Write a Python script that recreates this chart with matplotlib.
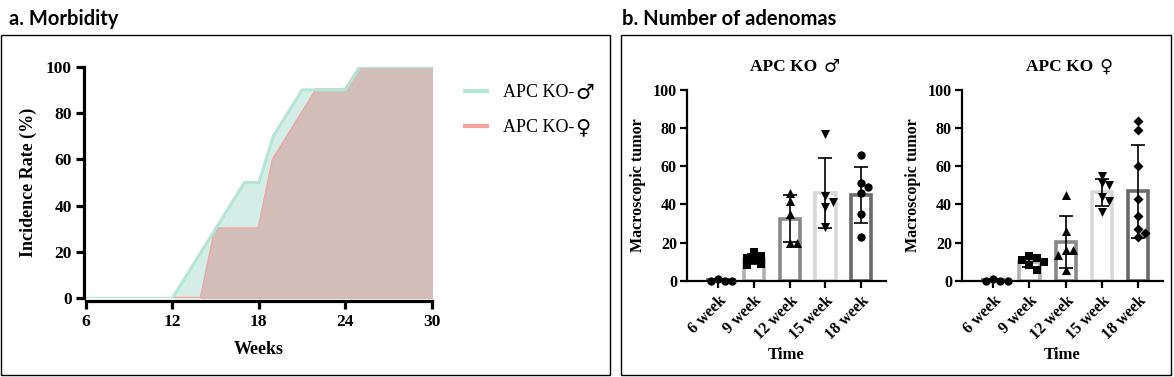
import numpy as np
import matplotlib
matplotlib.use("Agg")
import matplotlib.pyplot as plt
from matplotlib.patches import Rectangle

# ---------------- data ----------------
# a. Morbidity (incidence rate, %)
male_weeks = [6, 12, 15, 17, 18, 19, 21, 24, 25, 30]
male_rate = [0, 0, 30, 50, 50, 70, 90, 90, 100, 100]
female_weeks = [12, 14, 15, 18, 19, 22, 24, 25, 30]
female_rate = [0, 0, 30, 30, 60, 90, 90, 100, 100]

# b. Number of adenomas (macroscopic tumors per mouse)
categories = ["6 week", "9 week", "12 week", "15 week", "18 week"]
male_6w = [1, 0, 0, 0]
male_9w = [8, 9, 11, 12, 13, 15]
male_12w = [46, 42, 35, 20, 20]
male_15w = [77, 44.5, 41.5, 38.5, 28]
male_18w = [66, 51, 49, 46, 35, 23]
female_6w = [1, 0, 0, 0]
female_9w = [5.5, 8, 10, 11, 12, 13]
female_12w = [45, 26, 16, 16, 13.5, 5.5]
female_15w = [55, 51, 50, 44, 42, 36]
female_18w = [84, 79, 60, 43, 34, 27, 25, 23]

MALE = "\u2642"
FEMALE = "\u2640"

# ---------------- style ----------------
SERIF = ["Liberation Serif", "DejaVu Sans"]
TITLE_FONT = ["Lato", "DejaVu Sans"]
W, H = 1174, 377
fig = plt.figure(figsize=(W / 100, H / 100), dpi=100)

def fx(px):
    return px / W

def fy(py):
    return 1 - py / H

# panel boxes
fig.patches.append(Rectangle((fx(1), fy(375)), fx(609), (375 - 35) / H,
                             transform=fig.transFigure, fill=False,
                             edgecolor="black", lw=1.0))
fig.patches.append(Rectangle((fx(621), fy(375)), fx(550), (375 - 35) / H,
                             transform=fig.transFigure, fill=False,
                             edgecolor="black", lw=1.0))
fig.text(fx(9), fy(25), "a. Morbidity", family=TITLE_FONT, weight="bold",
         fontsize=14.5, ha="left", va="baseline")
fig.text(fx(622), fy(25), "b. Number of adenomas", family=TITLE_FONT,
         weight="bold", fontsize=14.5, ha="left", va="baseline")

# ---------------- panel a ----------------
male_line_c = "#b3e6d4"
male_fill_c = "#d4ede6"
female_line_c = "#f4a3a0"
female_fill_c = "#d3bdb8"

axa = fig.add_axes([fx(85.7), fy(298.3), fx(432 - 85.7), (298.3 - 66.7) / H])
axa.fill_between(male_weeks, male_rate, 0, color=male_fill_c, lw=0, zorder=1)
fl, = axa.plot(female_weeks, female_rate, color=female_line_c, lw=2.2,
               zorder=2, label="APC KO-", solid_capstyle="butt")
axa.fill_between(female_weeks[1:], female_rate[1:], 0, facecolor=female_fill_c,
                 edgecolor=female_fill_c, lw=1.2, zorder=3)
ml, = axa.plot(male_weeks, male_rate, color=male_line_c, lw=2.2, zorder=4,
               label="APC KO-", solid_capstyle="butt")
axa.set_xlim(6, 30)
axa.set_ylim(0, 100)
axa.set_xticks([6, 12, 18, 24, 30])
axa.set_yticks([0, 20, 40, 60, 80, 100])
for s in ["top", "right"]:
    axa.spines[s].set_visible(False)
for s in ["left", "bottom"]:
    axa.spines[s].set_linewidth(2.3)
    axa.spines[s].set_zorder(6)
axa.spines["bottom"].set_position(("outward", 2.2))
axa.spines["left"].set_position(("outward", 1.0))
axa.tick_params(width=2.3, length=6, direction="out", pad=3)
for lab in axa.get_xticklabels() + axa.get_yticklabels():
    lab.set_fontfamily(SERIF)
    lab.set_fontweight("bold")
    lab.set_fontsize(12.5)
axa.set_xlabel("Weeks", family=SERIF, weight="bold", fontsize=13, labelpad=8)
axa.set_ylabel("Incidence Rate (%)", family=SERIF, weight="bold", fontsize=13,
               labelpad=6)
leg = axa.legend(handles=[ml, fl], loc="upper left",
                 bbox_to_anchor=(1.07, 0.955), frameon=False,
                 prop={"family": SERIF, "size": 13}, handlelength=1.4,
                 handletextpad=0.8, labelspacing=1.0, borderaxespad=0)
leg.set_zorder(5)
for h in leg.get_lines():
    h.set_linewidth(3)
for t, sym in zip(leg.get_texts(), [MALE, FEMALE]):
    axa.annotate(sym, xy=(1, 0), xycoords=t, xytext=(0.5, -1),
                 textcoords="offset points", ha="left", va="bottom",
                 family="DejaVu Sans", fontsize=15, annotation_clip=False,
                 zorder=20)

# ---------------- panel b ----------------
bar_edges = ["#555555", "#b0b0b0", "#888888", "#d8d8d8", "#6a6a6a"]
markers = ["o", "s", "^", "v"]

def swarm_offsets(vals, ax_px_per_x, ax_px_per_y, diam_px=8.0, step=0.2,
                  frac=0.85):
    order = np.argsort(-np.asarray(vals, dtype=float), kind="stable")
    placed = []
    offs = np.zeros(len(vals))
    for i in order:
        v = vals[i]
        k = 0
        while True:
            cand = 0 if k == 0 else ((k + 1) // 2) * step * (1 if k % 2 else -1)
            ok = True
            for (px, pv) in placed:
                dx = (cand - px) * ax_px_per_x
                dy = (v - pv) * ax_px_per_y
                if np.hypot(dx, dy) < diam_px * frac:
                    ok = False
                    break
            if ok:
                break
            k += 1
        offs[i] = cand
        placed.append((cand, v))
    return offs

def draw_panel(ax, groups, last_marker, title, sym):
    xlim = (-0.87, 4.68)
    ax.set_xlim(*xlim)
    ax.set_ylim(0, 100)
    bbox = ax.get_position()
    px_x = bbox.width * W / (xlim[1] - xlim[0])
    px_y = bbox.height * H / 100
    means = [np.mean(g) for g in groups]
    sds = [np.std(g, ddof=1) for g in groups]
    x = np.arange(len(groups))
    ax.bar(x, means, width=0.56, facecolor="white", edgecolor=bar_edges,
           linewidth=2.6, zorder=2)
    ax.errorbar(x, means, yerr=sds, fmt="none", ecolor="black", elinewidth=1.2,
                capsize=5, capthick=1.2, zorder=3)
    mk = markers + [last_marker]
    for i, g in enumerate(groups):
        offs = swarm_offsets(g, px_x, px_y)
        size = 26 if mk[i] == "D" else (42 if mk[i] in "^v" else 36)
        ax.scatter(i + offs, g, marker=mk[i], s=size, color="black",
                   linewidths=0, zorder=4, clip_on=False)
    ax.set_xticks(x)
    ax.set_xticklabels(categories, rotation=45, ha="right",
                       rotation_mode="anchor", family=SERIF, weight="bold",
                       fontsize=11.5)
    ax.set_yticks([0, 20, 40, 60, 80, 100])
    for lab in ax.get_yticklabels():
        lab.set_fontfamily(SERIF)
        lab.set_fontweight("bold")
        lab.set_fontsize(11.5)
    for s in ["top", "right"]:
        ax.spines[s].set_visible(False)
    for s in ["left", "bottom"]:
        ax.spines[s].set_linewidth(1.6)
        ax.spines[s].set_zorder(5)
    ax.tick_params(width=1.6, length=5, direction="out", pad=2)
    ax.tick_params(axis="x", pad=4)
    ax.set_xlabel("Time", family=SERIF, weight="bold", fontsize=12, labelpad=3)
    ax.set_ylabel("Macroscopic tumor", family=SERIF, weight="bold",
                  fontsize=11.5, labelpad=5)
    t = ax.set_title(title, family=SERIF, weight="bold", fontsize=12.5, pad=14)
    ax.annotate(sym, xy=(1, 0), xycoords=t, xytext=(1, -1),
                textcoords="offset points", ha="left", va="bottom",
                family="DejaVu Sans", weight="bold", fontsize=13,
                annotation_clip=False, zorder=20)

axm = fig.add_axes([fx(686.7), fy(280.7), fx(199), (280.7 - 90) / H])
draw_panel(axm, [male_6w, male_9w, male_12w, male_15w, male_18w], "o",
           "APC KO ", MALE)
axf = fig.add_axes([fx(961.7), fy(280.7), fx(201), (280.7 - 90) / H])
draw_panel(axf, [female_6w, female_9w, female_12w, female_15w, female_18w],
           "D", "APC KO ", FEMALE)

fig.savefig("out.png", dpi=100)
